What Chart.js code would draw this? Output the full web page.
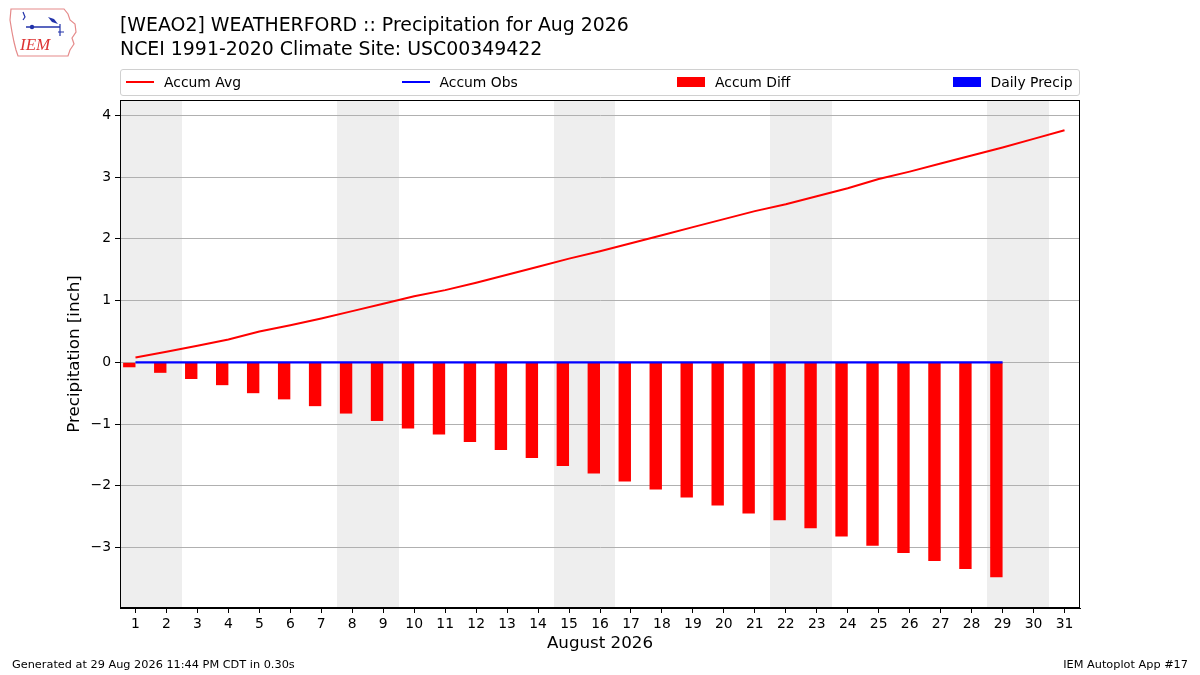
<!DOCTYPE html>
<html>
<head>
<meta charset="utf-8">
<script src="https://cdn.jsdelivr.net/npm/chart.js@4"></script>
<style>
  html, body { margin:0; padding:0; background:#fff; }
  #wrap { position:relative; width:1200px; height:675px; font-family:"DejaVu Sans", sans-serif; color:#000; overflow:hidden; }
  #c { position:absolute; left:0; top:0; }
  #title { position:absolute; left:120px; top:12px; font-size:18.9px; line-height:24px; white-space:nowrap; }
  #legend { position:absolute; left:120px; top:69px; width:958px; height:25px; border:1px solid #d0d0d0; border-radius:3px; background:rgba(255,255,255,0.8); }
  .li { position:absolute; top:-1px; height:25px; display:flex; align-items:center; font-size:13.9px; white-space:nowrap; }
  .hl { width:28px; height:2px; margin-right:10px; }
  .hr { width:28px; height:10px; margin-right:10px; }
  #foot1 { position:absolute; left:12px; top:658px; font-size:11.3px; }
  #foot2 { position:absolute; right:12px; top:658px; font-size:11.3px; }
  #logo { position:absolute; left:8px; top:6px; }
</style>
</head>
<body>
<div id="wrap">
  <canvas id="c" width="1200" height="675"></canvas>
  <svg id="logo" width="72" height="54" viewBox="0 0 72 54">
    <path d="M3,3 L56,3 L60,8 L62,14 L67,18 L68,26 L64,32 L66,38 L62,44 L60,50 L10,50 L8,44 L6,36 L4,26 L2,14 Z" fill="none" stroke="#e58a8a" stroke-width="1.2"/>
    <path d="M15,6 L17,11 L15,14" fill="none" stroke="#2233aa" stroke-width="1.2"/>
    <circle cx="24" cy="21" r="2.2" fill="#2233aa"/>
    <line x1="18" y1="21" x2="52" y2="21" stroke="#2233aa" stroke-width="1.6"/>
    <path d="M40,11 L46,13 L50,18 L44,16 Z" fill="#2233aa"/>
    <line x1="52" y1="18" x2="52" y2="30" stroke="#2233aa" stroke-width="1.2"/>
    <line x1="50" y1="26" x2="56" y2="26" stroke="#2233aa" stroke-width="1"/>
    <text x="12" y="44" font-family="Liberation Serif, serif" font-style="italic" font-size="17" fill="#dd3333">IEM</text>
  </svg>
  <div id="title">[WEAO2] WEATHERFORD :: Precipitation for Aug 2026<br>NCEI 1991-2020 Climate Site: USC00349422</div>
  <div id="legend"></div>
  <div id="foot1">Generated at 29 Aug 2026 11:44 PM CDT in 0.30s</div>
  <div id="foot2">IEM Autoplot App #17</div>
</div>
<script>
// ---- Data ----
const days = [1,2,3,4,5,6,7,8,9,10,11,12,13,14,15,16,17,18,19,20,21,22,23,24,25,26,27,28,29,30,31];
const accumAvg = [0.08,0.17,0.27,0.37,0.50,0.60,0.71,0.83,0.95,1.07,1.17,1.29,1.42,1.55,1.68,1.80,1.93,2.06,2.19,2.32,2.45,2.56,2.69,2.82,2.97,3.09,3.22,3.35,3.48,3.62,3.76];
const accumObs = [0,0,0,0,0,0,0,0,0,0,0,0,0,0,0,0,0,0,0,0,0,0,0,0,0,0,0,0,0];
const accumDiff = [-0.08,-0.17,-0.27,-0.37,-0.50,-0.60,-0.71,-0.83,-0.95,-1.07,-1.17,-1.29,-1.42,-1.55,-1.68,-1.80,-1.93,-2.06,-2.19,-2.32,-2.45,-2.56,-2.69,-2.82,-2.97,-3.09,-3.22,-3.35,-3.48];
const dailyPrecip = [0,0,0,0,0,0,0,0,0,0,0,0,0,0,0,0,0,0,0,0,0,0,0,0,0,0,0,0,0];
const weekendDays = [1,2,8,9,15,16,22,23,29,30];
const yTicks = [-3,-2,-1,0,1,2,3,4];
const xTitle = 'August 2026';
const yTitle = 'Precipitation [inch]';

const pts = (arr) => arr.map((v, i) => ({x: days[i], y: v}));
const FONT = '"DejaVu Sans", sans-serif';

const bgPlugin = {
  id: 'bg',
  beforeDraw(chart) {
    const {ctx, chartArea: a, scales: {x}} = chart;
    ctx.save();
    ctx.fillStyle = '#fff';
    ctx.fillRect(0, 0, chart.width, chart.height);
    ctx.fillStyle = '#eeeeee';
    weekendDays.forEach(d => {
      const l = Math.round(x.getPixelForValue(d - 0.5)), r = Math.round(x.getPixelForValue(d + 0.5));
      ctx.fillRect(l, a.top, r - l, a.bottom - a.top);
    });
    ctx.restore();
  },
  afterDraw(chart) {
    const {ctx, chartArea: a} = chart;
    ctx.save();
    ctx.strokeStyle = '#000';
    ctx.lineWidth = 1;
    ctx.strokeRect(Math.round(a.left) + 0.5, Math.round(a.top) + 0.5, Math.round(a.right - a.left) - 1, Math.round(a.bottom - a.top) - 1);
    ctx.fillStyle = '#000';
    ctx.font = '16.7px ' + FONT;
    ctx.textAlign = 'center';
    ctx.textBaseline = 'middle';
    ctx.fillText(xTitle, (a.left + a.right) / 2, 644);
    ctx.translate(75, (a.top + a.bottom) / 2);
    ctx.rotate(-Math.PI / 2);
    ctx.fillText(yTitle, 0, 0);
    ctx.restore();
  }
};

const chart = new Chart(document.getElementById('c'), {
  data: {
    datasets: [
      { type: 'line', label: 'Accum Avg', data: pts(accumAvg), borderColor: '#ff0000', borderWidth: 2, pointRadius: 0, tension: 0, order: 0 },
      { type: 'line', label: 'Accum Obs', data: pts(accumObs), borderColor: '#0000ff', borderWidth: 2.2, pointRadius: 0, tension: 0, order: 0 },
      { type: 'bar', label: 'Accum Diff', data: pts(accumDiff), backgroundColor: '#ff0000', borderWidth: 0, barPercentage: 1.0, categoryPercentage: 0.8, order: 1 },
      { type: 'bar', label: 'Daily Precip', data: pts(dailyPrecip), backgroundColor: '#0000ff', borderWidth: 0, barPercentage: 1.0, categoryPercentage: 0.8, order: 1 }
    ]
  },
  options: {
    responsive: false,
    animation: false,
    devicePixelRatio: 1,
    layout: { padding: { left: 0, right: 120, top: 100, bottom: 0 } },
    plugins: { legend: { display: false }, tooltip: { enabled: false } },
    scales: {
      x: {
        type: 'linear', min: 0.5, max: 31.5, offset: false,
        afterBuildTicks: ax => { ax.ticks = days.map(v => ({value: v})); },
        afterFit: ax => { ax.height = 67; },
        grid: { offset: false, drawOnChartArea: false, drawTicks: true, tickLength: 5, color: '#000', tickColor: '#000' },
        border: { display: true, color: '#000', width: 1 },
        ticks: { autoSkip: false, maxRotation: 0, padding: 3, color: '#000', font: { family: FONT, size: 13.9 }, callback: v => String(v) }
      },
      y: {
        type: 'linear', min: -3.98, max: 4.25,
        afterBuildTicks: ax => { ax.ticks = yTicks.map(v => ({value: v})); },
        afterFit: ax => { ax.width = 120; },
        grid: { drawOnChartArea: true, drawTicks: true, tickLength: 5, color: '#b0b0b0', tickColor: '#000', lineWidth: 1 },
        border: { display: true, color: '#000', width: 1 },
        ticks: { padding: 4, color: '#000', font: { family: FONT, size: 13.9 }, callback: v => (v < 0 ? '\u2212' + Math.abs(v) : String(v)) }
      }
    }
  },
  plugins: [bgPlugin]
});

// HTML legend built from dataset labels
const leg = document.getElementById('legend');
chart.data.datasets.forEach((ds, i) => {
  const el = document.createElement('div');
  el.className = 'li';
  el.style.left = (5 + i * 275.5) + 'px';
  const h = document.createElement('span');
  h.className = ds.type === 'line' ? 'hl' : 'hr';
  h.style.background = ds.type === 'line' ? ds.borderColor : ds.backgroundColor;
  el.appendChild(h);
  el.appendChild(document.createTextNode(ds.label));
  leg.appendChild(el);
});
</script>
</body>
</html>
